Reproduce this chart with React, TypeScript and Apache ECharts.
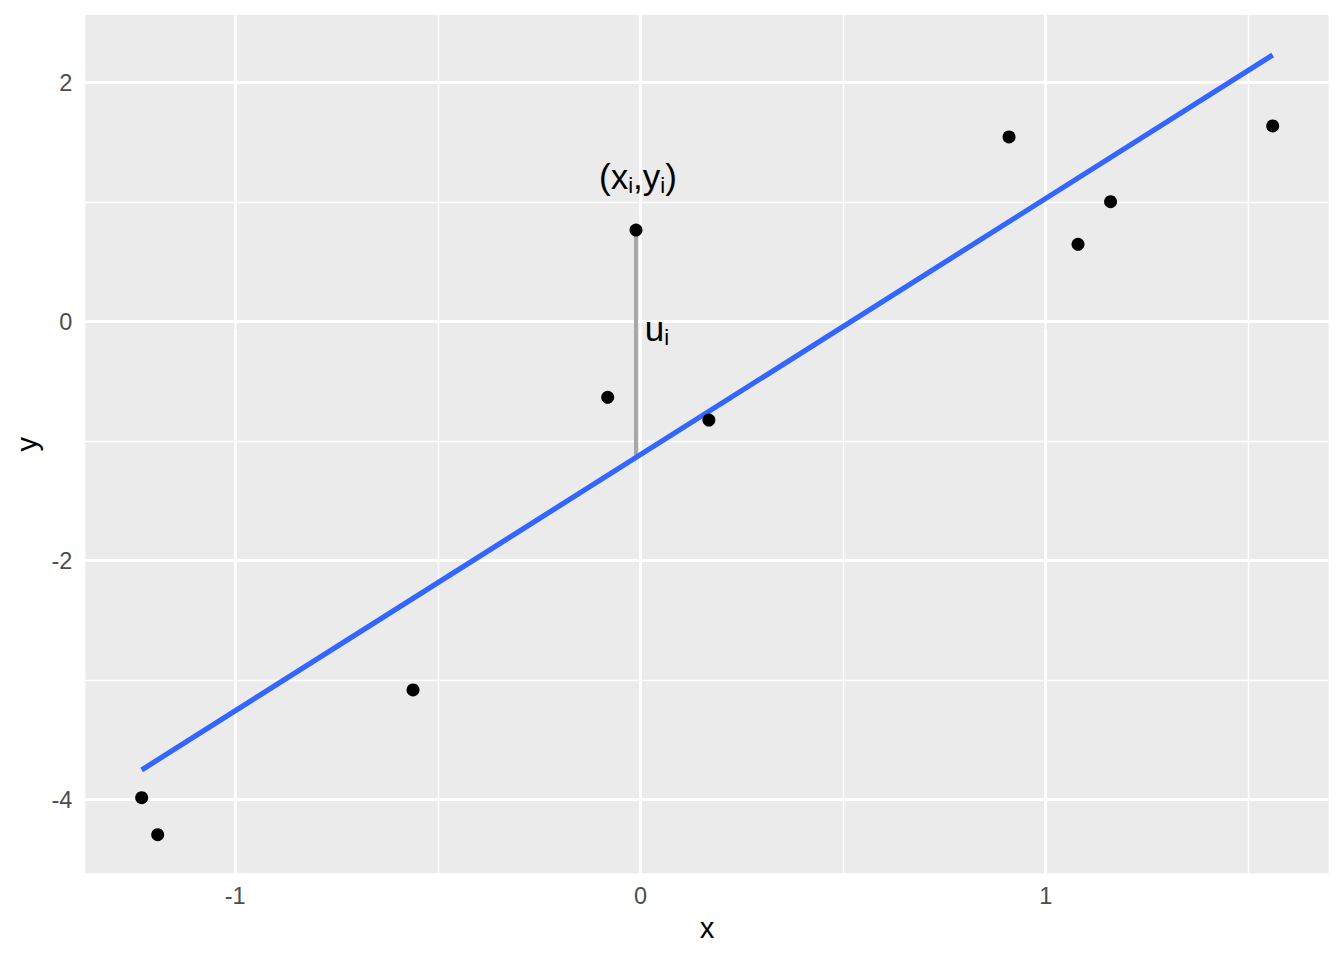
import React, { useEffect, useRef } from "react";
import * as echarts from "echarts";

// data
const pointX = [-1.2305, -1.191, -0.561, -0.0807, -0.0109, 0.169, 0.9095, 1.0797, 1.16, 1.56];
const pointY = [-3.983, -4.293, -3.082, -0.633, 0.767, -0.823, 1.546, 0.648, 1.004, 1.638];
const fitX = [-1.2305, 1.56];
const fitY = [-3.751, 2.232];
const residX = [-0.0109, -0.0109];
const residY = [0.767, -1.136];
const xMajor = [-1, 0, 1];
const xMinor = [-0.5, 0.5, 1.5];
const yMajor = [-4, -2, 0, 2];
const yMinor = [-3, -1, 1];
const xLimits = [-1.3696, 1.6982];
const yLimits = [-4.616, 2.5665];
const labelX = [-0.006, 0.041];
const labelY = [1.215, -0.055];
const labelText = ["{m|(x}{s|i}{m|,y}{s|i}{m|)}", "{m|u}{s|i}"];

const FONT = "'Liberation Sans', Arial, Helvetica, sans-serif";

export default function App() {
  const ref = useRef<HTMLDivElement>(null);
  useEffect(() => {
    if (!ref.current) return;
    const chart = echarts.init(ref.current, null, { renderer: "svg" });
    const gridLines = [
      ...xMajor.map((v) => ({ xAxis: v, lineStyle: { width: 2.85 } })),
      ...xMinor.map((v) => ({ xAxis: v, lineStyle: { width: 1.42 } })),
      ...yMajor.map((v) => ({ yAxis: v, lineStyle: { width: 2.85 } })),
      ...yMinor.map((v) => ({ yAxis: v, lineStyle: { width: 1.42 } })),
    ];
    const option = {
      animation: false,
      backgroundColor: "#FFFFFF",
      grid: {
        left: 85.3,
        right: 15.3,
        top: 15,
        bottom: 86.7,
        show: true,
        backgroundColor: "#EBEBEB",
        borderWidth: 0,
      },
      xAxis: {
        type: "value",
        min: xLimits[0],
        max: xLimits[1],
        name: "x",
        nameLocation: "middle",
        nameGap: 40,
        nameTextStyle: { color: "#000000", fontSize: 29.3, fontFamily: FONT },
        axisLine: { show: false },
        axisTick: {
          show: true,
          customValues: xMajor,
          length: 7.3,
          lineStyle: { color: "#333333", width: 2.85 },
        },
        axisLabel: {
          customValues: xMajor,
          margin: 11,
          color: "#4D4D4D",
          fontSize: 23.5,
          fontFamily: FONT,
          formatter: (v: number) => String(v),
        },
        splitLine: { show: false },
      },
      yAxis: {
        type: "value",
        min: yLimits[0],
        max: yLimits[1],
        name: "y",
        nameLocation: "middle",
        nameGap: 44.5,
        nameRotate: 90,
        nameTextStyle: { color: "#000000", fontSize: 29.3, fontFamily: FONT },
        axisLine: { show: false },
        axisTick: {
          show: true,
          customValues: yMajor,
          length: 7.3,
          lineStyle: { color: "#333333", width: 2.85 },
        },
        axisLabel: {
          customValues: yMajor,
          margin: 13,
          color: "#4D4D4D",
          fontSize: 23.5,
          fontFamily: FONT,
          formatter: (v: number) => String(v),
        },
        splitLine: { show: false },
      },
      series: [
        {
          type: "line",
          data: [],
          silent: true,
          z: 1,
          markLine: {
            silent: true,
            z: 1,
            symbol: ["none", "none"],
            label: { show: false },
            lineStyle: { color: "#FFFFFF", type: "solid" },
            emphasis: { disabled: true },
            data: gridLines,
          },
        },
        {
          type: "line",
          data: residX.map((x, i) => [x, residY[i]]),
          symbol: "none",
          silent: true,
          z: 2,
          lineStyle: { color: "#A8A8A8", width: 4 },
        },
        {
          type: "line",
          data: fitX.map((x, i) => [x, fitY[i]]),
          symbol: "none",
          silent: true,
          z: 3,
          lineStyle: { color: "#3366FF", width: 5.2 },
        },
        {
          type: "scatter",
          data: pointX.map((x, i) => [x, pointY[i]]),
          symbol: "circle",
          symbolSize: 13,
          silent: true,
          z: 6,
          itemStyle: { color: "#000000", opacity: 1 },
        },
        {
          type: "scatter",
          data: labelX.map((x, i) => ({ value: [x, labelY[i]], text: labelText[i] })),
          symbolSize: 0,
          silent: true,
          z: 7,
          itemStyle: { opacity: 1 },
          label: {
            show: true,
            position: "inside",
            color: "#000000",
            textBorderWidth: 0,
            fontFamily: FONT,
            formatter: (p: any) => p.data.text,
            rich: {
              m: {
                fontSize: 35,
                lineHeight: 40,
                color: "#000000",
                textBorderWidth: 0,
                fontFamily: FONT,
                verticalAlign: "middle",
              },
              s: {
                fontSize: 22,
                lineHeight: 18,
                color: "#000000",
                textBorderWidth: 0,
                fontFamily: FONT,
                verticalAlign: "bottom",
              },
            },
          },
        },
      ],
    };
    chart.setOption(option as any);
    return () => chart.dispose();
  }, []);
  return (
    <div
      ref={ref}
      style={{ position: "fixed", left: 0, top: 0, width: 1344, height: 960, background: "#FFFFFF" }}
    />
  );
}
